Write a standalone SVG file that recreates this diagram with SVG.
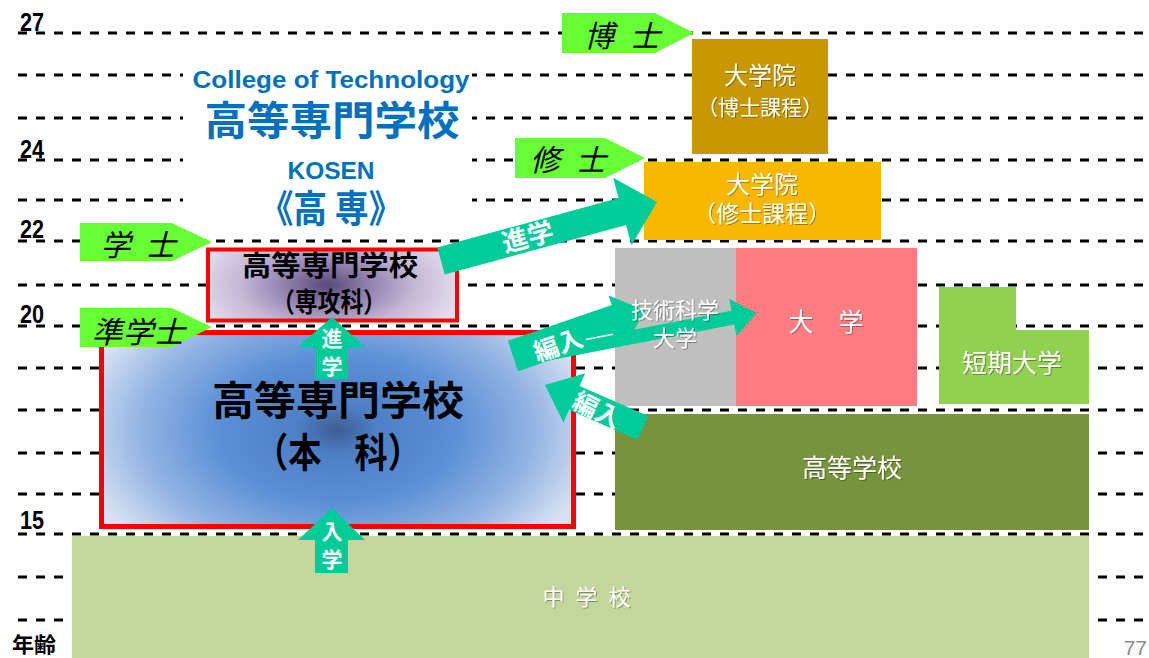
<svg xmlns="http://www.w3.org/2000/svg" width="1149" height="658" viewBox="0 0 1149 658">
<defs>
<style>
.dash{stroke:#000;stroke-width:3;stroke-dasharray:9 9;fill:none}
.age{font-family:"Liberation Sans",sans-serif;font-weight:bold;font-size:25px;fill:#000}
.jp{font-family:"Noto Sans CJK JP",sans-serif}
.wt{font-family:"Noto Sans CJK JP",sans-serif;fill:#fff;text-anchor:middle;filter:url(#sh)}
.deg{font-family:"Noto Sans CJK JP",sans-serif;font-style:italic;font-size:30px;fill:#000;text-anchor:middle}
.arr{fill:#00CC99}
.arrt{font-family:"Noto Sans CJK JP",sans-serif;font-weight:bold;fill:#fff;text-anchor:middle}
.pent{fill:#66FF33}
.ttl{font-family:"Noto Sans CJK JP",sans-serif;font-weight:bold;fill:#0070C0;text-anchor:middle}
.lat{font-family:"Liberation Sans",sans-serif}
.blk{font-family:"Noto Sans CJK JP",sans-serif;font-weight:bold;fill:#000;text-anchor:middle}
</style>
<filter id="sh" x="-10%" y="-20%" width="130%" height="150%">
<feDropShadow dx="1" dy="1" stdDeviation="0.6" flood-color="#000" flood-opacity="0.35"/>
</filter>
<radialGradient id="gHon" gradientUnits="userSpaceOnUse" cx="337" cy="430" r="262" gradientTransform="translate(0 430) scale(1 0.62) translate(0 -430)">
<stop offset="0" stop-color="#3e5d92"/>
<stop offset="0.15" stop-color="#4d7fc4"/>
<stop offset="0.45" stop-color="#5b8fd6"/>
<stop offset="0.75" stop-color="#93b4e3"/>
<stop offset="1" stop-color="#d6e1f2"/>
</radialGradient>
<radialGradient id="gSen" gradientUnits="userSpaceOnUse" cx="327" cy="285" r="135" gradientTransform="translate(0 285) scale(1 0.5) translate(0 -285)">
<stop offset="0" stop-color="#594878"/>
<stop offset="0.3" stop-color="#8e7fac"/>
<stop offset="0.65" stop-color="#c4b9d6"/>
<stop offset="1" stop-color="#e4ddee"/>
</radialGradient>
</defs>
<rect width="1149" height="658" fill="#fff"/>

<g id="grid">
<line class="dash" x1="18" y1="33" x2="1149" y2="33"/>
<line class="dash" x1="18" y1="75" x2="1149" y2="75"/>
<line class="dash" x1="18" y1="118" x2="1149" y2="118"/>
<line class="dash" x1="18" y1="160" x2="1149" y2="160"/>
<line class="dash" x1="18" y1="200" x2="1149" y2="200"/>
<line class="dash" x1="18" y1="241" x2="1149" y2="241"/>
<line class="dash" x1="18" y1="285" x2="1149" y2="285"/>
<line class="dash" x1="18" y1="326" x2="1149" y2="326"/>
<line class="dash" x1="18" y1="368" x2="1149" y2="368"/>
<line class="dash" x1="18" y1="410" x2="1149" y2="410"/>
<line class="dash" x1="18" y1="453" x2="1149" y2="453"/>
<line class="dash" x1="18" y1="494" x2="1149" y2="494"/>
<line class="dash" x1="18" y1="534" x2="1149" y2="534"/>
<line class="dash" x1="18" y1="577" x2="1149" y2="577"/>
<line class="dash" x1="18" y1="620" x2="1149" y2="620"/>
<rect x="183" y="52" width="289" height="178" fill="#fff"/>
</g>

<g id="ages">
<text class="age" x="20" y="31" textLength="24" lengthAdjust="spacingAndGlyphs">27</text>
<text class="age" x="20" y="158" textLength="24" lengthAdjust="spacingAndGlyphs">24</text>
<text class="age" x="20" y="238" textLength="24" lengthAdjust="spacingAndGlyphs">22</text>
<text class="age" x="20" y="323" textLength="24" lengthAdjust="spacingAndGlyphs">20</text>
<text class="age" x="20" y="529" textLength="24" lengthAdjust="spacingAndGlyphs">15</text>
<text class="jp" x="12" y="652" font-size="21" font-weight="bold" fill="#000" textLength="44" lengthAdjust="spacingAndGlyphs">年齢</text>
</g>

<g id="title">
<text class="ttl lat" x="331" y="88" font-size="23" textLength="277" lengthAdjust="spacingAndGlyphs">College of Technology</text>
<text class="ttl" x="332" y="135" font-size="40" textLength="255" lengthAdjust="spacingAndGlyphs">高等専門学校</text>
<text class="ttl lat" x="331" y="179" font-size="23" textLength="87" lengthAdjust="spacingAndGlyphs">KOSEN</text>
<text class="ttl" x="331" y="222" font-size="38" textLength="143" lengthAdjust="spacingAndGlyphs">《高 専》</text>
</g>

<g id="chugakko">
<rect x="72" y="536" width="1017" height="122" fill="#C3D69B"/>
<text class="wt" x="588" y="605" font-size="22" letter-spacing="3">中 学 校</text>
</g>
<g id="kotogakko">
<rect x="615" y="414" width="474" height="116" fill="#77933C"/>
<text class="wt" x="852" y="477" font-size="25">高等学校</text>
</g>
<g id="gikadai">
<rect x="615" y="248" width="121" height="158" fill="#BFBFBF"/>
</g>
<g id="daigaku">
<rect x="736" y="248" width="181" height="158" fill="#FF7C80"/>
<text class="wt" x="826" y="331" font-size="25">大　学</text>
</g>
<g id="tanki">
<path d="M939 287 H1016 V330 H1089 V404 H939 Z" fill="#92D050"/>
<text class="wt" x="1012" y="372" font-size="25">短期大学</text>
</g>
<g id="shushi-in">
<rect x="644" y="162" width="237" height="78" fill="#F9B700"/>
<text class="wt" x="762" y="193" font-size="24">大学院</text>
<text class="wt" x="762" y="222" font-size="23">（修士課程）</text>
</g>
<g id="hakase-in">
<rect x="692" y="39" width="136" height="115" fill="#C99800"/>
<text class="wt" x="760" y="84" font-size="24">大学院</text>
<text class="wt" x="760" y="115" font-size="21">（博士課程）</text>
</g>

<g id="honka">
<rect x="101.5" y="332.5" width="472" height="194" fill="url(#gHon)" stroke="#FF0000" stroke-width="5"/>
<text class="blk" x="338" y="415" font-size="40" textLength="252" lengthAdjust="spacingAndGlyphs">高等専門学校</text>
<text class="blk" x="338" y="467" font-size="40" textLength="166" lengthAdjust="spacingAndGlyphs">（本　科）</text>
</g>
<g id="senkoka">
<rect x="208" y="249.5" width="249" height="71" fill="url(#gSen)" stroke="#FF0000" stroke-width="4"/>
<text class="blk" x="330" y="276" font-size="28" textLength="176" lengthAdjust="spacingAndGlyphs">高等専門学校</text>
<text class="blk" x="329" y="312" font-size="27" textLength="114" lengthAdjust="spacingAndGlyphs">（専攻科）</text>
</g>

<g id="degrees">
<polygon class="pent" points="562,13 655,13 694,33 655,53 562,53"/>
<text class="deg" x="622" y="47" textLength="76" lengthAdjust="spacing">博 士</text>
<polygon class="pent" points="515,138 605,138 645,158 605,178 515,178"/>
<text class="deg" x="568" y="171" textLength="76" lengthAdjust="spacing">修 士</text>
<polygon class="pent" points="80,223 172,223 212,242 172,261 80,261"/>
<text class="deg" x="138" y="256" textLength="75" lengthAdjust="spacing">学 士</text>
<polygon class="pent" points="80,308 172,308 212,327 172,347 80,347"/>
<text class="deg" x="138" y="343" textLength="93" lengthAdjust="spacingAndGlyphs">準学士</text>
</g>

<g id="connectors">
<g transform="translate(441 261) rotate(-15.3)">
<polygon class="arr" points="0,-14 188,-14 188,-35 224,0 188,35 188,14 0,14"/>
<text class="arrt" x="90" y="9" font-size="26">進学</text>
</g>
<g transform="translate(513 356) rotate(-19)">
<polygon class="arr" points="0,-16 110,-16 110,-26 140,0 110,26 110,16 0,16"/>
</g>
<g transform="translate(515 360) rotate(-11)">
<polygon class="arr" points="0,-7 222,-7 222,-19 246,0 222,19 222,7 0,7"/>
</g>
<line x1="586" y1="339.5" x2="613" y2="334.3" stroke="#fff" stroke-width="1.5"/>
<text class="arrt" x="558" y="354" font-size="25" transform="rotate(-19 558 345)">編入</text>
<g transform="translate(643 428) rotate(203.7)">
<polygon class="arr" points="0,-13 75,-13 75,-27 107,0 75,27 75,13 0,13"/>
</g>
<text class="arrt" x="597" y="419" font-size="25" transform="rotate(26 597 410)">編入</text>
<polygon class="arr" points="332,317 365,347 348,347 348,379 315,379 315,347 298,347"/>
<text class="arrt" x="332" y="346" font-size="21">進</text>
<text class="arrt" x="332" y="374" font-size="21">学</text>
<polygon class="arr" points="332,508 365,540 348,540 348,573 315,573 315,540 298,540"/>
<text class="arrt" x="332" y="539" font-size="21">入</text>
<text class="arrt" x="332" y="567" font-size="21">学</text>
</g>

<g id="tech-text">
<text class="wt" x="675" y="318" font-size="22">技術科学</text>
<text class="wt" x="675" y="346" font-size="22">大学</text>
</g>

<text class="lat" x="1147" y="655" font-size="21" fill="#8c8c8c" text-anchor="end">77</text>
</svg>
